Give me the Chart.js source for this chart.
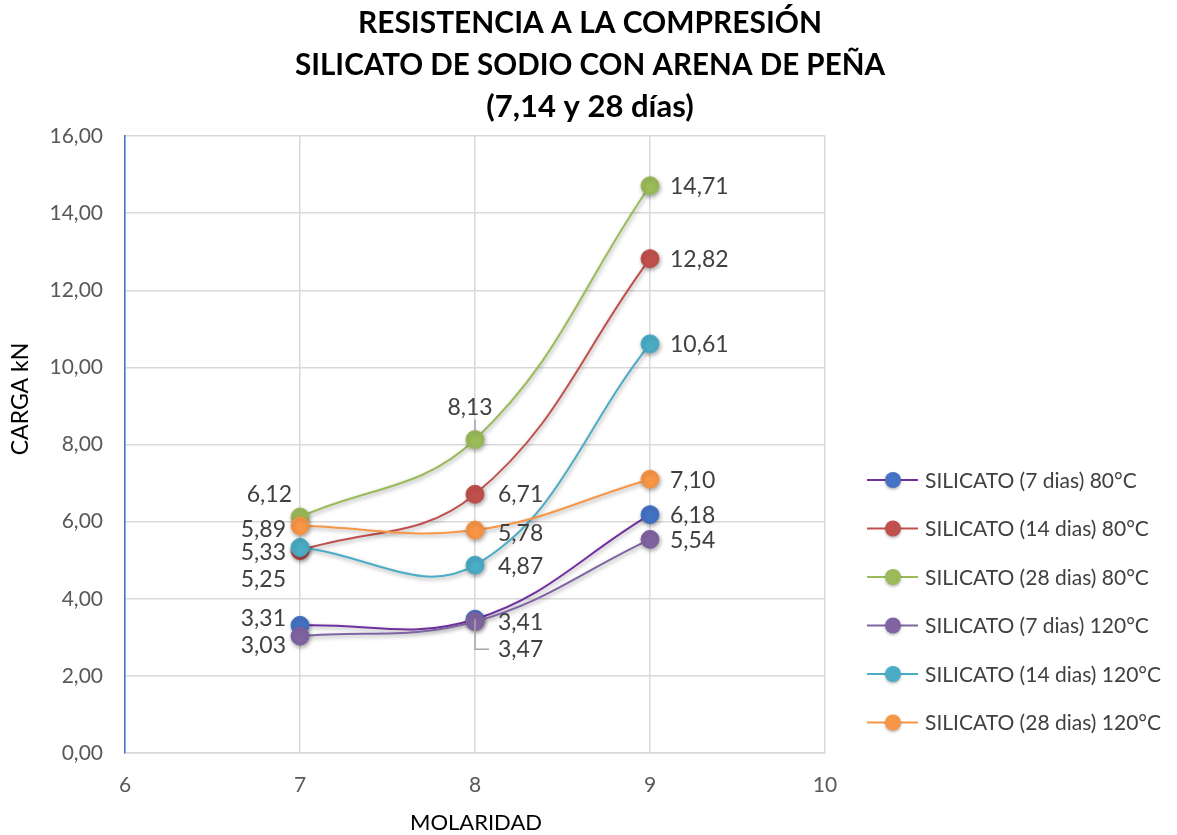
<!DOCTYPE html>
<html>
<head>
<meta charset="utf-8">
<script src="https://cdn.jsdelivr.net/npm/chart.js@4/dist/chart.umd.min.js"></script>
<style>
html,body{margin:0;padding:0;background:#fff;}
#wrap{width:1177px;height:835px;position:relative;}
</style>
</head>
<body>
<div id="wrap"><canvas id="c" width="1177" height="835"></canvas></div>
<script>
// ---- data ----
const molaridad = [7, 8, 9];
const seriesNames = [
  'SILICATO (7 dias) 80°C',
  'SILICATO (14 dias) 80°C',
  'SILICATO (28 dias) 80°C',
  'SILICATO (7 dias) 120°C',
  'SILICATO (14 dias) 120°C',
  'SILICATO (28 dias) 120°C'
];
const s7d80 = [3.31, 3.47, 6.18];
const s14d80 = [5.25, 6.71, 12.82];
const s28d80 = [6.12, 8.13, 14.71];
const s7d120 = [3.03, 3.41, 5.54];
const s14d120 = [5.33, 4.87, 10.61];
const s28d120 = [5.89, 5.78, 7.10];
const yTicks = [0, 2, 4, 6, 8, 10, 12, 14, 16];
const xTicks = [6, 7, 8, 9, 10];
const titleLines = ['RESISTENCIA A LA COMPRESIÓN', 'SILICATO DE SODIO CON ARENA DE PEÑA', '(7,14 y 28 días)'];

// ---- styles ----
const seriesValues = [s7d80, s14d80, s28d80, s7d120, s14d120, s28d120];
const pointColors = ['#4472C4', '#C0504D', '#9BBB59', '#8064A2', '#4BACC6', '#F79646'];
const lineColors = ['#7030A0', '#C0504D', '#9BBB59', '#8064A2', '#4BACC6', '#F79646'];
// label placement per series per point: [dx, dy, align]
const labelPos = [
  [[-14, -7, 'right'], [23, 30, 'left'], [20, 1, 'left']],
  [[-14, 29, 'right'], [23, 0, 'left'], [20, 1, 'left']],
  [[-8, -22, 'right'], [-5, -32, 'center'], [20, 1, 'left']],
  [[-14, 9, 'right'], [23, 1, 'left'], [20, 1, 'left']],
  [[-14, 5, 'right'], [23, 1, 'left'], [20, 1, 'left']],
  [[-14, 4, 'right'], [23, 3, 'left'], [20, 1, 'left']]
];
const FONT = 'Lato, "Open Sans", sans-serif';
const fmt = v => v.toFixed(2).replace('.', ',');

const datasets = seriesValues.map((vals, i) => ({
  label: seriesNames[i],
  data: molaridad.map((m, j) => ({x: m, y: vals[j]})),
  borderColor: lineColors[i],
  backgroundColor: pointColors[i],
  pointBackgroundColor: pointColors[i],
  pointBorderColor: pointColors[i],
  pointBorderWidth: 1,
  pointRadius: 9,
  borderWidth: 2,
  tension: 0.4,
  order: 6 - i
}));

const decor = {
  id: 'decor',
  beforeDatasetsDraw(chart) {
    const ctx = chart.ctx;
    ctx.save();
    ctx.shadowColor = 'rgba(0,0,0,0.35)';
    ctx.shadowBlur = 4;
    ctx.shadowOffsetX = 1;
    ctx.shadowOffsetY = 2;
  },
  afterDatasetsDraw(chart) {
    chart.ctx.restore();
  },
  afterDraw(chart) {
    const ctx = chart.ctx;
    ctx.save();
    // title
    ctx.fillStyle = '#000';
    ctx.font = 'bold 31px ' + FONT;
    ctx.textAlign = 'center';
    ctx.textBaseline = 'middle';
    const tw = [464, 590, 225];
    const ty = [23, 65, 107];
    titleLines.forEach((t, i) => {
      const w = ctx.measureText(t).width;
      ctx.fillText(t, 590, ty[i], Math.min(w, tw[i]));
    });
    // axis titles
    ctx.font = '22px ' + FONT;
    ctx.fillStyle = '#000';
    ctx.fillText('MOLARIDAD', 476, 823);
    ctx.save();
    ctx.translate(21, 399);
    ctx.rotate(-Math.PI / 2);
    ctx.font = '23px ' + FONT;
    ctx.fillText('CARGA kN', 0, 0);
    ctx.restore();
    // data labels
    ctx.font = '23px ' + FONT;
    ctx.fillStyle = '#404040';
    chart.data.datasets.forEach((ds, i) => {
      const meta = chart.getDatasetMeta(i);
      meta.data.forEach((pt, j) => {
        const [dx, dy, al] = labelPos[i][j];
        ctx.textAlign = al;
        ctx.fillText(fmt(seriesValues[i][j]), pt.x + dx, pt.y + dy);
      });
    });
    // leader lines
    ctx.strokeStyle = '#A6A6A6';
    ctx.lineWidth = 1.5;
    const g = chart.getDatasetMeta(2).data[1];
    ctx.beginPath();
    ctx.moveTo(g.x, g.y - 20);
    ctx.lineTo(g.x, g.y - 8);
    ctx.stroke();
    const b = chart.getDatasetMeta(0).data[1];
    ctx.beginPath();
    ctx.moveTo(b.x, b.y);
    ctx.lineTo(b.x, b.y + 30);
    ctx.lineTo(b.x + 14, b.y + 30);
    ctx.stroke();
    // legend
    const ly0 = 480, lstep = 48.5;
    seriesNames.forEach((n, i) => {
      const y = ly0 + i * lstep;
      ctx.strokeStyle = lineColors[i];
      ctx.lineWidth = 2;
      ctx.beginPath();
      ctx.moveTo(867, y);
      ctx.lineTo(918, y);
      ctx.stroke();
      ctx.save();
      ctx.shadowColor = 'rgba(0,0,0,0.3)';
      ctx.shadowBlur = 3;
      ctx.shadowOffsetY = 1.5;
      ctx.fillStyle = pointColors[i];
      ctx.beginPath();
      ctx.arc(893, y, 8, 0, Math.PI * 2);
      ctx.fill();
      ctx.restore();
      ctx.fillStyle = '#404040';
      ctx.font = '21px ' + FONT;
      ctx.textAlign = 'left';
      ctx.fillText(n, 925, y + 1);
    });
    ctx.restore();
  }
};

new Chart(document.getElementById('c'), {
  type: 'line',
  data: {datasets},
  options: {
    responsive: false,
    animation: false,
    layout: {padding: {top: 136, right: 352, left: 0, bottom: 0}},
    plugins: {legend: {display: false}, title: {display: false}, tooltip: {enabled: false}},
    scales: {
      x: {
        type: 'linear', min: 6, max: 10,
        afterBuildTicks: s => { s.ticks = xTicks.map(v => ({value: v})); },
        afterFit: s => { s.height = 82; },
        grid: {color: '#D9D9D9', lineWidth: 1.5, drawTicks: false},
        border: {color: '#D9D9D9', width: 1.5},
        ticks: {padding: 20, color: '#595959', font: {family: FONT, size: 21}}
      },
      y: {
        min: 0, max: 16,
        afterBuildTicks: s => { s.ticks = yTicks.map(v => ({value: v})); },
        afterFit: s => { s.width = 125; },
        grid: {color: '#D9D9D9', lineWidth: 1.5, drawTicks: false},
        border: {color: '#4472C4', width: 1.5},
        ticks: {padding: 22, color: '#595959', font: {family: FONT, size: 21}, callback: v => fmt(v)}
      }
    }
  },
  plugins: [decor]
});
</script>
</body>
</html>
